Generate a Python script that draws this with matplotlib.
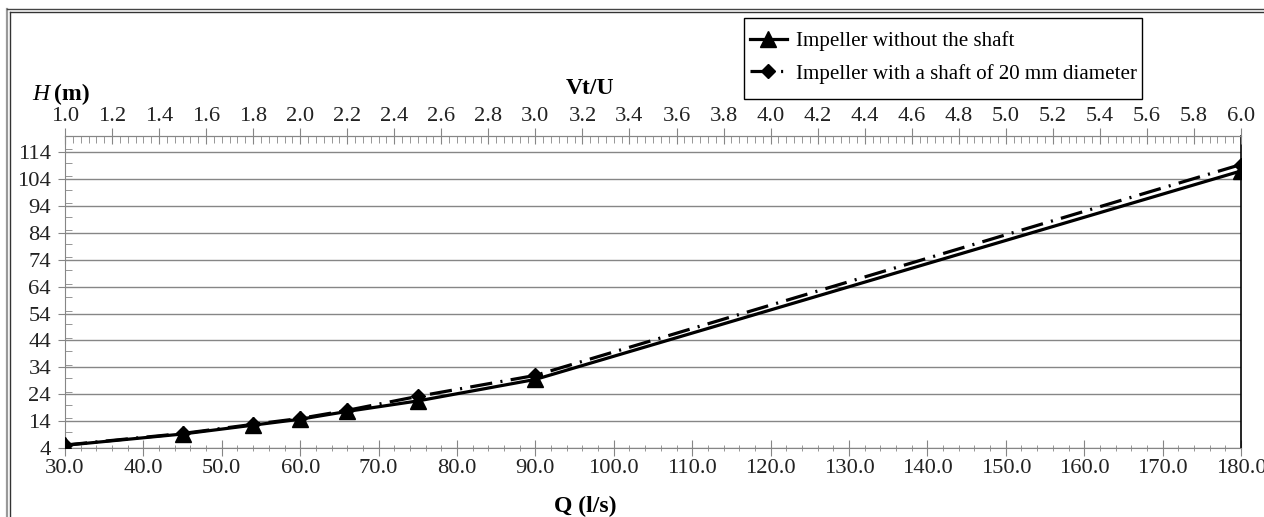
import matplotlib
matplotlib.use("Agg")
import matplotlib.pyplot as plt
from matplotlib.lines import Line2D
from matplotlib.patches import Rectangle
from matplotlib.ticker import MultipleLocator, AutoMinorLocator, FormatStrFormatter

# ---- data ----
q_values = [30, 45, 54, 60, 66, 75, 90, 180]
h_without_shaft = [5.0, 9.2, 12.5, 14.7, 17.6, 21.5, 29.5, 107.0]
h_with_shaft = [5.1, 9.4, 12.8, 15.0, 18.0, 23.2, 31.0, 109.4]
series_labels = ["Impeller without the shaft", "Impeller with a shaft of 20 mm diameter"]
y_ticks = [4, 14, 24, 34, 44, 54, 64, 74, 84, 94, 104, 114]

plt.rcParams['font.family'] = ['Liberation Serif', 'DejaVu Serif']
plt.rcParams['lines.scale_dashes'] = False

W, H = 1264, 517
fig = plt.figure(figsize=(W / 100, H / 100), dpi=100)

def px(x, y):
    return x / W, 1 - y / H

left, right, top, bottom = 65, 1241, 136, 448
ax = fig.add_axes([left / W, 1 - bottom / H, (right - left) / W, (bottom - top) / H])

grey = '#868686'
tickfs = 16.2
textcol = '#222222'

ax.plot(q_values, h_without_shaft, color='black', lw=2.3, marker='^', ms=11,
        label=series_labels[0], zorder=4)
ax.plot(q_values, h_with_shaft, color='black', lw=2.3, marker='D', ms=7,
        dashes=(16, 6, 1.5, 6), label=series_labels[1], zorder=3)

ax.set_xlim(30, 180)
ax.set_ylim(4, 120)
ax.xaxis.set_major_locator(MultipleLocator(10))
ax.xaxis.set_minor_locator(MultipleLocator(2))
ax.xaxis.set_major_formatter(FormatStrFormatter('%.1f'))
ax.set_yticks(y_ticks)
ax.yaxis.set_minor_locator(MultipleLocator(5))
ax.yaxis.grid(True, color=grey, lw=1)
ax.set_axisbelow(True)

ax.tick_params(axis='x', which='major', direction='inout', length=12, color=grey,
               labelsize=tickfs, pad=2)
ax.tick_params(axis='x', which='minor', direction='inout', length=5, color=grey)
ax.tick_params(axis='y', which='major', direction='out', length=5, color=grey,
               labelsize=tickfs, pad=5)
ax.tick_params(axis='y', which='minor', direction='in', length=5, color=grey)
for lab in ax.get_xticklabels() + ax.get_yticklabels():
    lab.set_color(textcol)

for s in ['left', 'bottom', 'top']:
    ax.spines[s].set_color(grey)
ax.spines['right'].set_color('black')
ax.spines['right'].set_linewidth(1.2)

# secondary top axis
ax2 = ax.twiny()
ax2.set_xlim(1.0, 6.0)
ax2.xaxis.set_major_locator(MultipleLocator(0.2))
ax2.xaxis.set_minor_locator(AutoMinorLocator(6))
ax2.xaxis.set_major_formatter(FormatStrFormatter('%.1f'))
ax2.tick_params(axis='x', which='major', direction='inout', length=12, color=grey,
                labelsize=tickfs, pad=1)
ax2.tick_params(axis='x', which='minor', direction='in', length=5, color=grey)
for lab in ax2.get_xticklabels():
    lab.set_color(textcol)
for s in ['left', 'bottom', 'right']:
    ax2.spines[s].set_visible(False)
ax2.spines['top'].set_color(grey)

# axis titles
fig.text(*px(590, 89), 'Vt/U', fontsize=17, fontweight='bold', ha='center', va='center')
fig.text(*px(585, 506), 'Q (l/s)', fontsize=17, fontweight='bold', ha='center', va='center')
fig.text(*px(32, 94), 'H', fontsize=17, fontstyle='italic', ha='left', va='center')
fig.text(*px(54, 94), '(m)', fontsize=17, fontweight='bold', ha='left', va='center')

# legend (frame drawn separately)
handles, labels = ax.get_legend_handles_labels()
leg = fig.legend(handles, labels, loc='upper left', bbox_to_anchor=px(750, 31),
                 fontsize=15.1, frameon=False, handlelength=1.75, handletextpad=0.42,
                 borderpad=0, labelspacing=0.62, borderaxespad=0)
fig.add_artist(Rectangle(px(744, 99), (1142 - 744) / W, (99 - 18) / H,
                         transform=fig.transFigure, fill=False, edgecolor='black', lw=1))

# double figure border (top and left)
fig.add_artist(Line2D([7 / W, 7 / W], [0, 1 - 9 / H], transform=fig.transFigure,
                      color='#999999', lw=1.6))
fig.add_artist(Line2D([10 / W, 10 / W], [0, 1 - 12 / H], transform=fig.transFigure,
                      color='#333333', lw=1.0))
fig.add_artist(Line2D([7 / W, 1], [1 - 9 / H, 1 - 9 / H], transform=fig.transFigure,
                      color='#444444', lw=1.0))
fig.add_artist(Line2D([10 / W, 1], [1 - 12 / H, 1 - 12 / H], transform=fig.transFigure,
                      color='#333333', lw=1.0))

fig.savefig('out.png', dpi=100)
